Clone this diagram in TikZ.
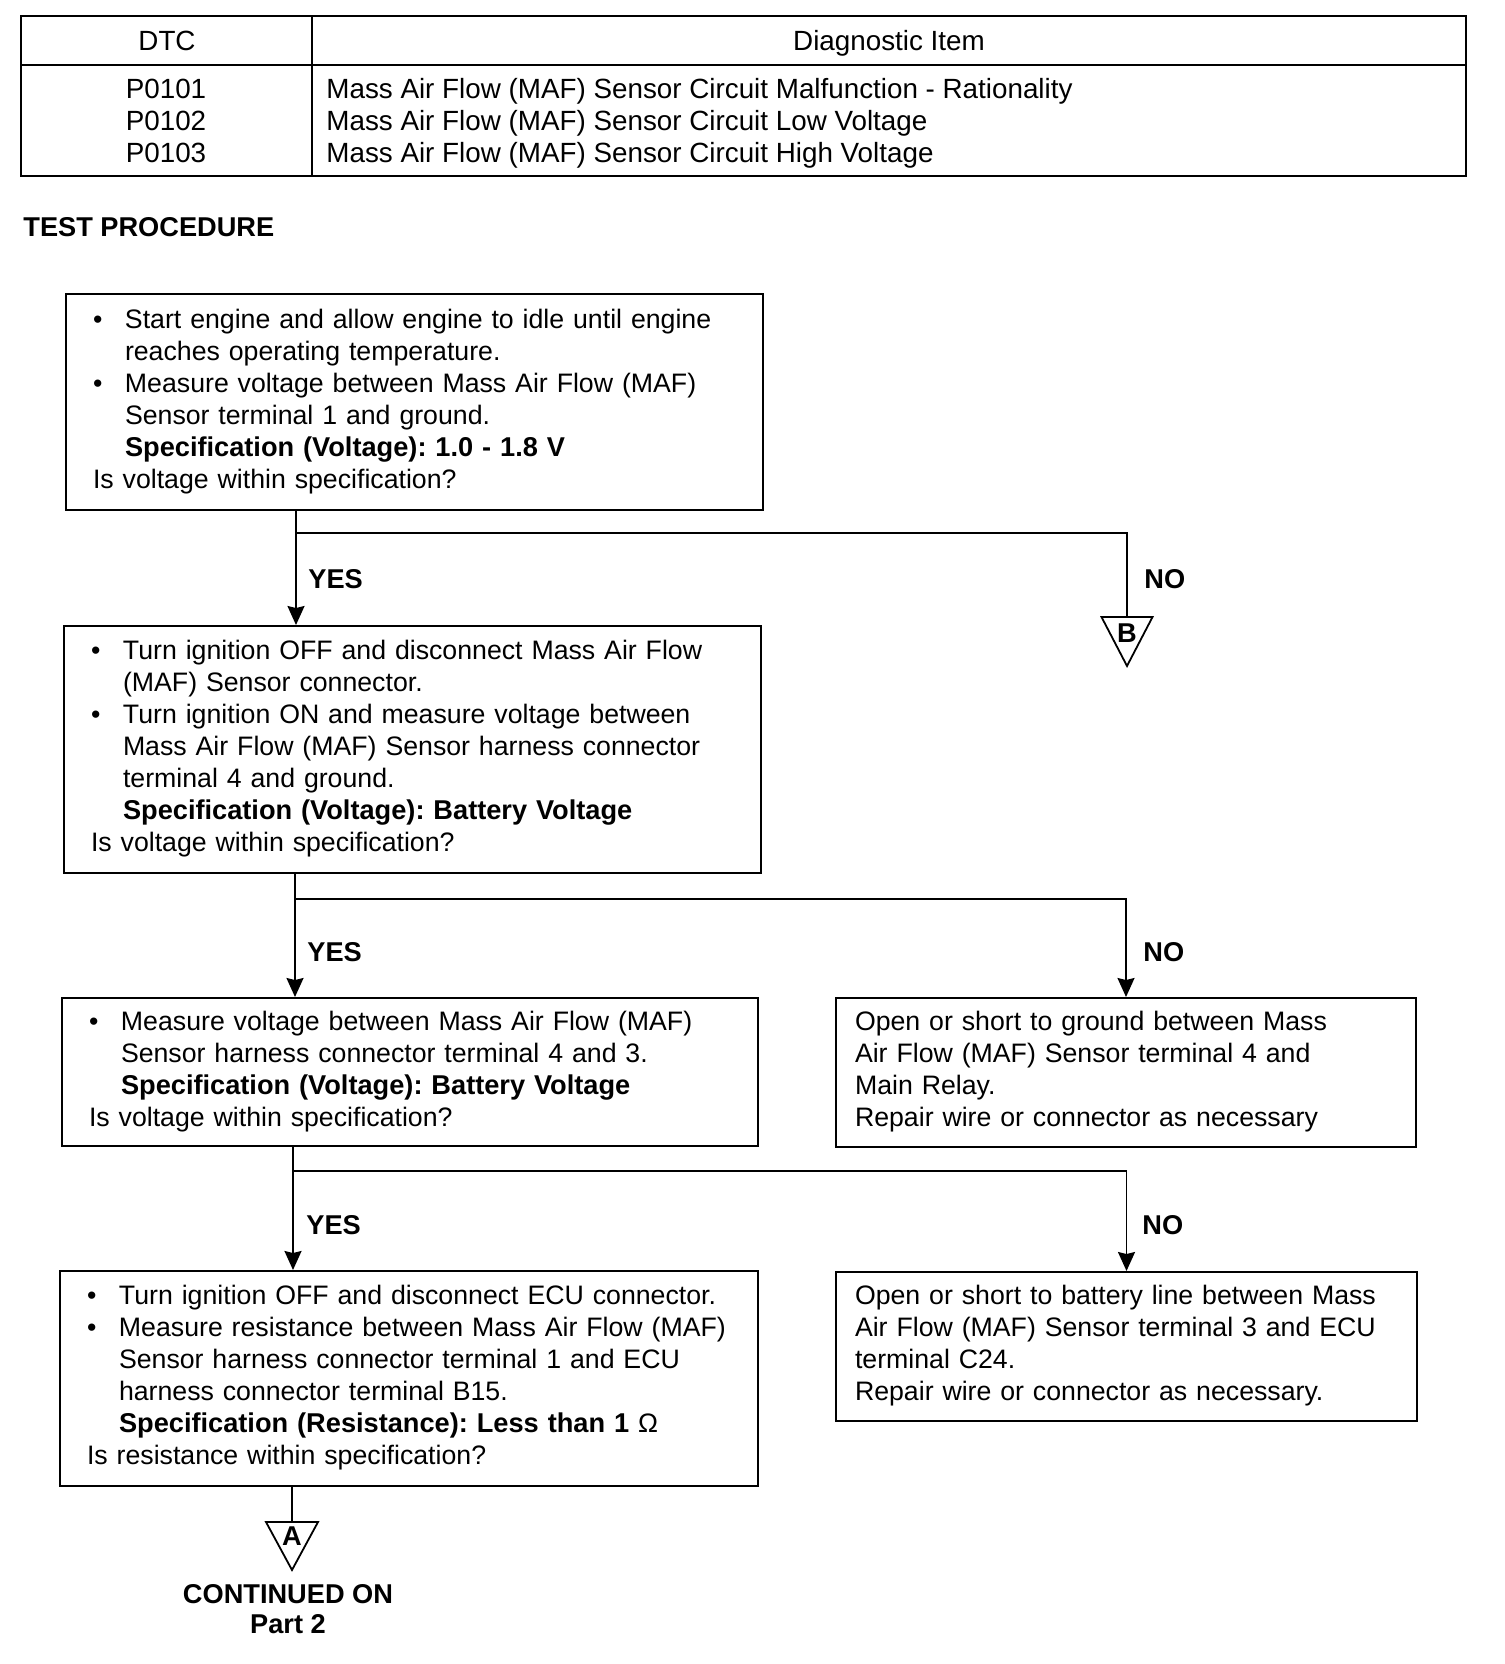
\documentclass[tikz,border=0pt]{standalone}
\usepackage{fontspec}
\setmainfont{Liberation Sans}
\usetikzlibrary{arrows.meta}
\frenchspacing

\newenvironment{steps}{\begin{tabular}{@{}p{16pt}@{}l@{}}}{\end{tabular}}
\newenvironment{plain}{\begin{tabular}{@{}l@{}}}{\end{tabular}}
\newcommand{\ask}[1]{\multicolumn{2}{@{}l@{}}{#1}}
\newcommand{\spec}[1]{{\fontsize{13.6}{16}\selectfont\bfseries #1}}

\begin{document}
\begin{tikzpicture}[x=0.5pt,y=-0.5pt,
  txt/.style={font=\fontsize{13.35}{16}\selectfont},
  bold/.style={font=\fontsize{13.6}{16}\selectfont\bfseries},
  tab/.style={font=\fontsize{13.9}{16}\selectfont,inner sep=0pt},
  stepbox/.style={txt,draw,line width=1pt,anchor=north west,inner xsep=13.5pt,inner ysep=0pt,align=left},
  fixbox/.style={stepbox,inner xsep=9.5pt},
  flow/.style={line width=0.9pt},
  arr/.style={flow,-{Stealth[length=9.5pt,width=8.5pt,inset=1pt]}},
  ans/.style={bold,anchor=base west,inner sep=0pt}]
\useasboundingbox (0,0) rectangle (1504,1664);

% DTC table
\draw[line width=1pt] (21,16) rectangle (1466,176);
\draw[line width=1pt] (21,65) -- (1466,65) (312,16) -- (312,176);
\node[tab,anchor=base] (dtc) at (167,51) {DTC};
\node[tab,anchor=base] (item) at (889,51) {Diagnostic Item};
\foreach \code/\what [count=\i] in {P0101/Malfunction - Rationality,P0102/Low Voltage,P0103/High Voltage} {
  \node[tab,anchor=base] (c\i) at (166,{67+32*\i}) {\code};
  \node[tab,anchor=base west] (d\i) at (326,{67+32*\i}) {Mass Air Flow (MAF) Sensor Circuit \what};
}

\node[ans] (tp) at (23,237) {TEST PROCEDURE};

% steps
\node[stepbox,text width=321.5pt,minimum height=108pt] (s1) at (65,293) {\begin{steps}
\textbullet & Start engine and allow engine to idle until engine\\
 & reaches operating temperature.\\
\textbullet & Measure voltage between Mass Air Flow (MAF)\\
 & Sensor terminal 1 and ground.\\
 & \spec{Specification (Voltage): 1.0 - 1.8 V}\\
\ask{Is voltage within specification?}
\end{steps}};
\node[stepbox,text width=321.5pt,minimum height=123.5pt] (s2) at (63,625) {\begin{steps}
\textbullet & Turn ignition OFF and disconnect Mass Air Flow\\
 & (MAF) Sensor connector.\\
\textbullet & Turn ignition ON and measure voltage between\\
 & Mass Air Flow (MAF) Sensor harness connector\\
 & terminal 4 and ground.\\
 & \spec{Specification (Voltage): Battery Voltage}\\
\ask{Is voltage within specification?}
\end{steps}};
\node[stepbox,text width=321pt,minimum height=74pt] (s3) at (61,997) {\begin{steps}
\textbullet & Measure voltage between Mass Air Flow (MAF)\\
 & Sensor harness connector terminal 4 and 3.\\
 & \spec{Specification (Voltage): Battery Voltage}\\
\ask{Is voltage within specification?}
\end{steps}};
\node[stepbox,text width=322pt,minimum height=107.5pt] (s4) at (59,1270) {\begin{steps}
\textbullet & Turn ignition OFF and disconnect ECU connector.\\
\textbullet & Measure resistance between Mass Air Flow (MAF)\\
 & Sensor harness connector terminal 1 and ECU\\
 & harness connector terminal B15.\\
 & \spec{Specification (Resistance): Less than 1 }Ω\\
\ask{Is resistance within specification?}
\end{steps}};

% repairs
\node[fixbox,text width=271pt,minimum height=74.5pt] (r3) at (835,997) {\begin{plain}
Open or short to ground between Mass\\
Air Flow (MAF) Sensor terminal 4 and\\
Main Relay.\\
Repair wire or connector as necessary
\end{plain}};
\node[fixbox,text width=271.5pt,minimum height=74.5pt] (r4) at (835,1271) {\begin{plain}
Open or short to battery line between Mass\\
Air Flow (MAF) Sensor terminal 3 and ECU\\
terminal C24.\\
Repair wire or connector as necessary.
\end{plain}};

% connectors
\coordinate (j1) at (296,533);
\coordinate (j2) at (295,899);
\coordinate (j3) at (293,1171);
\coordinate (bt) at (1127,617);
\coordinate (at) at (292,1522);
\draw[arr] (s1.south -| j1) -- (s2.north -| j1);
\draw[flow] (j1) -| (bt);
\draw[arr] (s2.south -| j2) -- (s3.north -| j2);
\draw[arr] (j2) -| (r3.north);
\draw[arr] (s3.south -| j3) -- (s4.north -| j3);
\draw[arr] (j3) -| (r4.north);
\draw[flow] (s4.south -| at) -- (at);

\node[ans] (y1) at (308,588) {YES};
\node[ans] (n1) at (1144,588) {NO};
\node[ans] (y2) at (307,961) {YES};
\node[ans] (n2) at (1143,961) {NO};
\node[ans] (y3) at (306,1234) {YES};
\node[ans] (n3) at (1142,1234) {NO};

% off-page connectors
\draw[flow] (bt) ++(-25.5,0) -- ++(51,0) -- ++(-25.5,49) -- cycle;
\node[bold,anchor=base] (lb) at (1127,642) {B};
\draw[flow] (at) ++(-26,0) -- ++(52,0) -- ++(-26,48) -- cycle;
\node[bold,anchor=base] (la) at (292,1545) {A};
\node[bold,anchor=base] (cont) at (288,1603) {CONTINUED ON};
\node[bold,anchor=base] (part) at (288,1633) {Part 2};
\end{tikzpicture}
\end{document}
